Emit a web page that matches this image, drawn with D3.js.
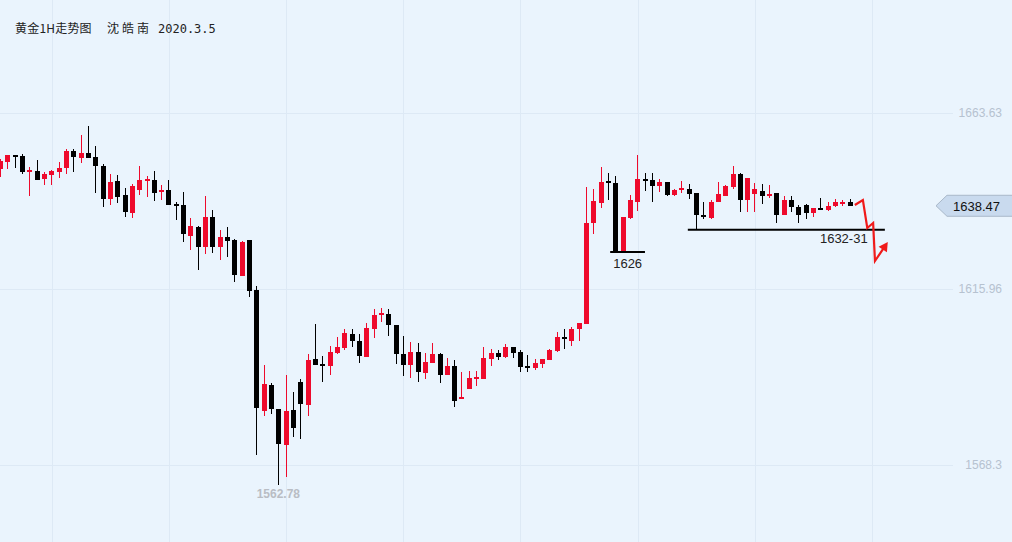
<!DOCTYPE html>
<html><head><meta charset="utf-8">
<script src="https://cdn.jsdelivr.net/npm/d3@7"></script>
<style>html,body{margin:0;padding:0;background:#eaf4fd;overflow:hidden}</style>
</head><body><svg id="c" width="1012" height="542"></svg>
<script>
// ---- data ----
const openP = [1648.52,1650.42,1652.24,1651.97,1647.71,1647.9,1645.81,1646.9,1647.71,1648.79,1653.32,1651.51,1652.78,1651.7,1649.26,1640.39,1645.19,1641.39,1636.59,1642.66,1645.27,1645.46,1642.39,1642.75,1638.95,1638.68,1630.35,1632.79,1627.37,1635.42,1627.37,1630.0,1629.27,1619.5,1629.19,1615.62,1582.89,1589.86,1583.35,1573.67,1583.08,1590.67,1584.43,1596.91,1595.55,1595.09,1598.54,1599.98,1603.69,1601.79,1597.53,1605.13,1609.03,1609.11,1606.13,1598.27,1595.36,1598.81,1593.19,1595.91,1598.27,1592.65,1595.01,1585.98,1588.85,1591.57,1591.57,1596.99,1598.54,1597.53,1600.16,1598.81,1595.01,1594.55,1595.64,1596.64,1599.08,1602.88,1601.87,1605.05,1606.4,1633.8,1639.3,1645.19,1644.64,1626.28,1635.15,1639.57,1645.73,1645.46,1643.91,1644.92,1641.47,1642.75,1643.02,1642.01,1635.97,1635.23,1639.57,1641.2,1643.64,1647.17,1640.03,1641.66,1642.47,1641.31,1642.01,1635.97,1640.03,1638.14,1638.68,1636.51,1637.86,1637.32,1638.41,1638.95,1639.49];
const closeP = [1650.69,1652.24,1651.78,1647.71,1648.17,1645.54,1647.09,1647.9,1648.71,1653.32,1651.61,1652.78,1651.34,1649.17,1640.39,1644.92,1640.93,1636.7,1643.83,1645.46,1645.73,1642.01,1642.75,1638.76,1638.49,1630.73,1632.98,1627.37,1635.42,1627.37,1630.0,1629.0,1619.77,1628.72,1615.43,1583.54,1590.13,1583.43,1573.94,1582.81,1578.11,1584.79,1596.64,1595.36,1595.2,1598.81,1600.16,1603.96,1601.87,1597.72,1605.32,1608.84,1609.39,1606.21,1598.27,1595.36,1598.89,1593.47,1596.1,1598.27,1592.65,1595.01,1585.52,1586.6,1591.76,1592.03,1597.18,1598.54,1597.53,1600.16,1598.62,1594.82,1594.55,1595.82,1596.91,1599.35,1602.88,1602.25,1605.05,1606.67,1633.8,1639.76,1644.92,1644.56,1626.0,1635.42,1640.03,1645.73,1645.27,1643.83,1645.0,1641.47,1642.83,1643.29,1641.74,1635.97,1635.42,1639.57,1641.66,1643.83,1647.09,1640.03,1646.08,1643.02,1641.2,1641.74,1635.97,1640.03,1638.14,1635.97,1636.51,1637.86,1637.59,1638.41,1639.57,1639.49,1638.47];
const highP = [1651.15,1652.24,1652.24,1652.51,1649.07,1650.88,1647.63,1648.17,1650.34,1653.87,1653.87,1657.66,1660.1,1654.68,1649.8,1647.09,1646.81,1643.29,1644.37,1649.26,1646.54,1647.9,1644.1,1645.46,1639.49,1642.2,1635.15,1632.98,1641.12,1637.32,1631.9,1632.71,1629.46,1628.91,1629.19,1616.71,1595.28,1590.4,1583.35,1592.57,1587.96,1591.49,1598.27,1606.48,1597.72,1600.44,1602.88,1605.05,1605.05,1603.69,1606.67,1610.47,1610.74,1610.47,1606.13,1603.15,1601.52,1601.25,1598.54,1601.25,1598.54,1597.18,1596.64,1593.38,1593.74,1593.66,1600.25,1599.62,1599.35,1601.06,1600.16,1599.35,1597.99,1596.91,1596.91,1599.62,1604.23,1605.05,1605.59,1606.67,1643.56,1643.1,1648.98,1647.36,1646.54,1635.42,1641.47,1652.24,1647.36,1647.36,1645.73,1644.92,1643.02,1645.19,1644.45,1642.01,1639.57,1640.12,1644.92,1644.1,1649.34,1647.36,1646.08,1644.64,1644.45,1644.18,1642.01,1641.12,1641.12,1638.68,1638.95,1637.86,1640.58,1639.49,1640.31,1640.03,1640.31];
const lowP = [1646.35,1648.52,1648.79,1647.17,1641.12,1645.54,1644.18,1644.18,1646.08,1647.17,1647.71,1650.15,1651.34,1642.01,1638.22,1638.76,1639.3,1635.5,1635.23,1641.39,1640.93,1639.84,1640.03,1638.76,1634.61,1628.64,1626.47,1621.05,1625.39,1625.74,1623.76,1624.57,1617.79,1619.5,1613.81,1570.95,1581.45,1581.99,1562.78,1564.91,1575.84,1575.21,1581.45,1595.36,1590.75,1592.57,1598.27,1599.35,1600.25,1595.91,1597.53,1602.69,1606.95,1603.15,1595.55,1592.3,1591.76,1590.75,1591.57,1595.91,1590.48,1592.65,1583.97,1585.98,1588.85,1589.59,1591.57,1595.01,1596.64,1597.26,1597.26,1593.47,1593.47,1593.93,1594.55,1596.64,1598.89,1599.7,1600.52,1601.87,1606.4,1630.81,1637.95,1640.03,1626.0,1626.28,1634.88,1637.13,1642.47,1639.49,1642.2,1641.2,1641.2,1641.93,1640.39,1632.09,1634.88,1634.88,1639.57,1641.2,1643.02,1636.86,1636.86,1636.86,1638.95,1640.66,1633.88,1635.97,1636.86,1633.88,1634.88,1635.42,1637.32,1637.05,1638.22,1638.41,1638.41];
const candleIdx = openP.map((_, i) => i);

const yTicks = [1663.63, 1615.96, 1568.3];
const yTickLabels = ["1663.63", "1615.96", "1568.3"];
const xGridIdx = [7.05, 23.05, 39.05, 55.05, 71.05, 87.05, 103.05, 119.05];

const lastPrice = 1638.47;
const lowLabel = "1562.78";
const lowIdx = 38;

const titleParts = ["黄金1H走势图", "沈皓南", "2020.3.5"];

// annotations
const level1626 = {value: 1625.9, from: 83.3, to: 88.05, label: "1626"};
const level1632 = {value: 1632.0, from: 93.9, to: 120.8, label: "1632-31"};
const arrowIdx   = [116.7, 117.8, 118.4, 119.2, 119.45, 121.2];
const arrowPrice = [1638.68, 1640.03, 1632.44, 1633.8, 1623.49, 1628.64];

// ---- drawing ----
const W = 1012, H = 542;
const RED = "#ee0a2c", BLACK = "#000000";
const svg = d3.select("#c");
svg.append("rect").attr("width", W).attr("height", H).attr("fill", "#eaf4fd");

const x = d3.scaleLinear().domain([0, 116]).range([0, 849.7]);
const y = d3.scaleLinear().domain([1568.3, 1663.63]).range([464.5, 113]);

const grid = svg.append("g").attr("shape-rendering", "crispEdges");
grid.selectAll("line.v").data(xGridIdx).join("line")
  .attr("x1", d => Math.round(x(d)) + 0.5).attr("x2", d => Math.round(x(d)) + 0.5)
  .attr("y1", 0).attr("y2", H)
  .attr("stroke", "#dde9f5").attr("stroke-width", 1);
grid.selectAll("line.h").data(yTicks).join("line")
  .attr("x1", 0).attr("x2", 953)
  .attr("y1", d => Math.round(y(d)) + 0.5).attr("y2", d => Math.round(y(d)) + 0.5)
  .attr("stroke", "#dde9f5").attr("stroke-width", 1);

// y axis labels
const yAxis = d3.axisRight(y).tickValues(yTicks).tickFormat((d, i) => yTickLabels[i]).tickSize(0);
const ag = svg.append("g").attr("transform", "translate(1002,0)").call(yAxis);
ag.select(".domain").remove();
ag.selectAll("text").attr("x", 0).attr("text-anchor", "end")
  .attr("font-family", "Liberation Sans, Arial, sans-serif").attr("font-size", 12)
  .attr("fill", "#b6c2d0");

// title
const tt = svg.append("text").attr("y", 33).attr("fill", "#222")
  .attr("font-family", "Noto Sans CJK SC, sans-serif").attr("font-size", 12);
tt.append("tspan").attr("x", 15).attr("letter-spacing", 0.2).text(titleParts[0]);
tt.append("tspan").attr("x", 107).attr("letter-spacing", 3).text(titleParts[1]);
tt.append("tspan").attr("x", 158).attr("font-family", "DejaVu Sans Mono, monospace").text(titleParts[2]);

// candles
const cg = svg.append("g").attr("shape-rendering", "crispEdges");
const c = cg.selectAll("g").data(candleIdx).join("g")
  .attr("fill", i => closeP[i] >= openP[i] ? RED : BLACK);
c.append("rect")
  .attr("x", i => Math.round(x(i)))
  .attr("width", 1)
  .attr("y", i => Math.round(y(highP[i])))
  .attr("height", i => Math.max(1, Math.round(y(lowP[i])) - Math.round(y(highP[i]))));
c.append("rect")
  .attr("x", i => Math.round(x(i)) - 2)
  .attr("width", 5)
  .attr("y", i => Math.round(y(Math.max(openP[i], closeP[i]))))
  .attr("height", i => Math.max(2, Math.round(y(Math.min(openP[i], closeP[i]))) - Math.round(y(Math.max(openP[i], closeP[i])))));

// low label
svg.append("text").attr("x", x(lowIdx)).attr("y", y(lowP[lowIdx]) + 13)
  .attr("text-anchor", "middle").text(lowLabel)
  .attr("font-family", "Liberation Sans, Arial, sans-serif").attr("font-size", 12)
  .attr("font-weight", "bold").attr("fill", "#b9bdc4");

// levels
[level1626, level1632].forEach(L => {
  svg.append("line").attr("x1", x(L.from)).attr("x2", x(L.to))
    .attr("y1", y(L.value)).attr("y2", y(L.value))
    .attr("stroke", "#000").attr("stroke-width", 2);
});
svg.append("text").attr("x", x(level1626.from) + 3).attr("y", y(level1626.value) + 16)
  .text(level1626.label).attr("font-family", "Liberation Sans, Arial, sans-serif")
  .attr("font-size", 13).attr("fill", "#222");
svg.append("text").attr("x", x(118.45)).attr("y", y(level1632.value) + 13)
  .attr("text-anchor", "end")
  .text(level1632.label).attr("font-family", "Liberation Sans, Arial, sans-serif")
  .attr("font-size", 13).attr("fill", "#222");

// red zig-zag arrow
const pts = arrowIdx.map((d, i) => [x(d), y(arrowPrice[i])]);
const n = pts.length;
const ex = pts[n - 1][0], ey = pts[n - 1][1];
const dx = ex - pts[n - 2][0], dy = ey - pts[n - 2][1];
const len = Math.hypot(dx, dy), ux = dx / len, uy = dy / len;
const headL = 9, headW = 5;
const bx = ex - ux * headL, by = ey - uy * headL;
const linePts = pts.slice(0, n - 1).concat([[bx + ux * 1, by + uy * 1]]);
svg.append("path").attr("d", d3.line()(linePts))
  .attr("fill", "none").attr("stroke", "#f01a1a").attr("stroke-width", 2.2)
  .attr("stroke-linejoin", "miter");
svg.append("path")
  .attr("d", `M${ex},${ey}L${bx - uy * headW},${by + ux * headW}L${bx + uy * headW},${by - ux * headW}Z`)
  .attr("fill", "#f01a1a");

// last price tag
const ty = y(lastPrice);
svg.append("path")
  .attr("d", `M936,${ty}L947,${ty - 10.5}L1013,${ty - 10.5}L1013,${ty + 10.5}L947,${ty + 10.5}Z`)
  .attr("fill", "#c9daee").attr("stroke", "#a9b8c9").attr("stroke-width", 1);
svg.append("text").attr("x", 953).attr("y", ty + 5).text(lastPrice.toFixed(2))
  .attr("font-family", "Liberation Sans, Arial, sans-serif").attr("font-size", 13)
  .attr("fill", "#111");
</script></body></html>
